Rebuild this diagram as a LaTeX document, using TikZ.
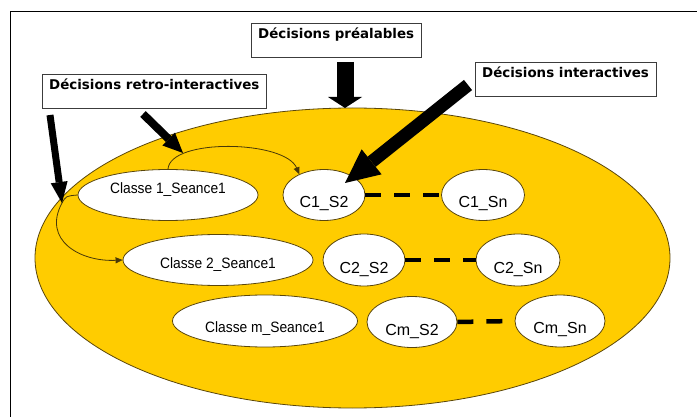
\documentclass[tikz,border=0pt]{standalone}
\usepackage{fontspec}
\setmainfont{Liberation Sans}
\newfontfamily\decfont{DejaVu Sans}
\newfontfamily\classefont[FakeStretch=0.92]{Liberation Sans}
\usetikzlibrary{shapes.geometric, arrows.meta}
\definecolor{sessiongold}{RGB}{255,204,0}
\definecolor{outlinebrown}{RGB}{90,70,10}
\definecolor{boxgray}{RGB}{60,60,60}

\begin{document}
\begin{tikzpicture}[x=1pt, y=-1pt,
    decbox/.style={rectangle, draw=boxgray, fill=white, anchor=north west, font=\fontsize{13.4}{16}\decfont\bfseries, inner xsep=7pt, inner ysep=5pt, text height=10pt, text depth=14pt},
    session/.style={ellipse, draw=outlinebrown, fill=white, inner sep=0pt, line width=0.8pt},
    classe/.style={session, font=\fontsize{15}{18}\classefont},
    seance/.style={session, font=\fontsize{16}{19}\selectfont, text height=26pt, text depth=0pt},
    dashlink/.style={line width=4.5pt, dash pattern=on 16pt off 13pt},
    flow/.style={line width=0.8pt, draw=outlinebrown!80!black, -{Triangle[length=7pt,width=6pt]}},
    bigarrow/.style n args={3}{line width=#1, -{Triangle[length=#2,width=#3,line width=0pt]}}]
    \useasboundingbox (0,0) rectangle (697,417);

    % Frame
    \draw[line width=0.8pt] (10,417) -- (10,11.5) -- (697,11.5);

    % Planning ellipse
    \draw[fill=sessiongold, draw=outlinebrown, line width=0.8pt] (352.5,258) ellipse [x radius=317.5, y radius=150];

    % First row of sessions
    \node[classe, minimum width=180pt, minimum height=51pt, text height=0pt, text depth=3.2pt] (cls1) at (168,195) {Classe 1\_Seance1};
    \node[seance, minimum width=82pt, minimum height=51pt] (cs12) at (324,195) {C1\_S2};
    \node[seance, minimum width=83pt, minimum height=51pt] (cs1n) at (483,195) {C1\_Sn};

    % Second row of sessions
    \node[classe, minimum width=190pt, minimum height=51pt, text height=16.8pt, text depth=0pt] (cls2) at (218,260) {Classe 2\_Seance1};
    \node[seance, minimum width=82pt, minimum height=52pt] (cs22) at (364,260) {C2\_S2};
    \node[seance, minimum width=84pt, minimum height=52pt] (cs2n) at (518,260) {C2\_Sn};

    % Last row of sessions
    \node[classe, minimum width=185pt, minimum height=52pt, text height=22.8pt, text depth=0pt] (clsm) at (265,321) {Classe m\_Seance1};
    \node[seance, minimum width=90pt, minimum height=51pt] (csm2) at (412,322) {Cm\_S2};
    \node[seance, minimum width=90pt, minimum height=52pt] (csmn) at (560,321) {Cm\_Sn};

    % Dashed links
    \draw[dashlink] (cs12.east) -- (cs1n.west);
    \draw[dashlink] (cs22.east) -- (cs2n.west);
    \draw[dashlink] (csm2.east) -- (csmn.west);

    % Retro-interactive flows
    \coordinate (lefttip) at (62,203);
    \draw[flow] (cls1.north) .. controls (170,138) and (285,140) .. (cs12.140);
    \draw[flow] (lefttip) .. controls (42,240) and (80,262) .. (cls2.west);
    \draw[line width=0.8pt, outlinebrown!80!black] (lefttip) .. controls (66,196) .. (cls1.west);

    % Decision arrows
    \coordinate (leftstart) at (50,115);
    \coordinate (retrostart) at (143,114);
    \coordinate (retrotip) at (183,153);
    \coordinate (prestart) at (345,62);
    \coordinate (pretip) at (345,108);
    \coordinate (interstart) at (468,85);
    \coordinate (intertip) at (345,183);
    \draw[bigarrow={7pt}{21pt}{17pt}] (leftstart) -- (lefttip);
    \draw[bigarrow={8pt}{20pt}{18pt}] (retrostart) -- (retrotip);
    \draw[bigarrow={17pt}{11pt}{34pt}] (prestart) -- (pretip);
    \draw[bigarrow={13pt}{34pt}{32pt}] (interstart) -- (intertip);

    % Decision boxes
    \node[decbox] (pre) at (251,23) {Décisions préalables};
    \node[decbox] (retro) at (42,74) {Décisions retro-interactives};
    \node[decbox] (inter) at (475,62) {Décisions interactives};
\end{tikzpicture}
\end{document}
